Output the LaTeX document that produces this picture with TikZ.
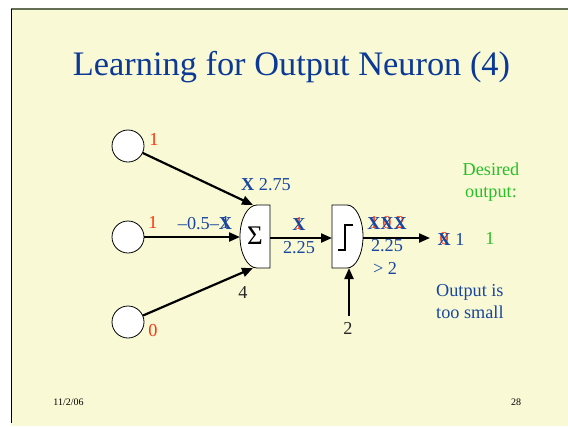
\documentclass[tikz,border=0pt]{standalone}
\usepackage{fontspec}
\setmainfont{Liberation Serif}
\usetikzlibrary{arrows.meta}
\definecolor{bg}{RGB}{249,250,213}
\definecolor{ttl}{RGB}{12,56,150}
\definecolor{bl}{RGB}{25,70,160}
\definecolor{rd}{RGB}{255,51,17}
\definecolor{gr}{RGB}{40,190,40}
\definecolor{edge}{RGB}{100,110,85}
\newcommand{\ovx}[2]{\ooalign{\hfil\raisebox{1.5bp}{\textcolor{#1}{#2}}\hfil\cr\textbf{X}}}
\begin{document}
\begin{tikzpicture}[x=1bp,y=-1bp,
  txt/.style={inner sep=0pt, font=\fontsize{18.3}{22}\selectfont},
  inp/.style={circle, draw, fill=white, minimum size=32bp, inner sep=0pt, line width=0.8bp},
  conn/.style={line width=2.2bp, -{Triangle[length=11bp,width=9bp]}},
  unit/.style={fill=white, draw, line width=0.8bp}]
\useasboundingbox (0,0) rectangle (568,426);
\fill[white] (0,0) rectangle (568,426);
\fill[bg] (11,9) rectangle (568,426);
\draw[line width=1.2bp, edge] (11,9) -- (568,9);
\draw[line width=1bp] (11,9) -- (11,423);

\node[text=ttl, font=\fontsize{34.5}{40}\selectfont, inner sep=0pt, anchor=base] (title) at (291.5,75) {Learning for Output Neuron (4)};

% inputs
\node[inp] (i1) at (128,146) {};
\node[inp] (i2) at (128,237) {};
\node[inp] (i3) at (128,322) {};

% summation unit
\draw[unit] (270,205) -- (257,205) .. controls (247.6,205) and (240,219.1) .. (240,236.5)
  .. controls (240,253.9) and (247.6,268) .. (257,268) -- (270,268) -- cycle;
\node[inner sep=0pt, font=\fontsize{27}{30}\selectfont] (sum) at (255,236) {Σ};
\coordinate (sumT) at (253,205);
\coordinate (sumL) at (240,237);
\coordinate (sumB) at (253,268);
\coordinate (sumR) at (270,238);

% threshold unit
\draw[unit] (332,205) -- (347,205) .. controls (355.8,205) and (363,219.1) .. (363,236.5)
  .. controls (363,253.9) and (355.8,268) .. (347,268) -- (332,268) -- cycle;
\coordinate (step) at (347,236.5);
\draw[line width=1.6bp] (338,250) -- (345,250) -- (345,225) -- (353,225);
\coordinate (stepL) at (332,238);
\coordinate (stepR) at (363,238);
\coordinate (stepB) at (349,268);
\coordinate (outp) at (430,238);
\coordinate (bias) at (349,316);

% connectors
\draw[conn] (i1) -- (sumT);
\draw[conn] (i2) -- (sumL);
\draw[conn] (i3) -- (sumB);
\draw[conn] (sumR) -- (stepL);
\draw[conn] (stepR) -- (outp);
\draw[conn] (bias) -- (stepB);

% input values
\node[txt, text=rd] (v1) at (154,139) {1};
\node[txt, text=rd] (v2) at (153,222) {1};
\node[txt, text=rd] (v3) at (153,331) {0};

% weights
\node[txt, text=bl] (w1) at (266,185) {\textbf{X} 2.75};
\node[txt, text=bl] (w2) at (205,223) {–0.5–\ovx{bl}{1}};
\node[txt, text=black!85] (w3) at (243,292) {4};
\node[txt, text=black!85] (thr) at (348,328) {2};

% sums
\node[txt, text=bl] (s1) at (299,224) {\ovx{rd}{1}};
\node[txt, text=bl] (s2) at (299,248) {2.25};
\node[txt, text=bl] (t1) at (387,223) {\ovx{rd}{1}\ovx{rd}{0}\ovx{rd}{2}};
\node[txt, text=bl] (t2) at (387,246) {2.25};
\node[txt, text=bl] (t3) at (385,268) {> 2};
\node[txt, text=bl] (o1) at (451,239) {\ovx{rd}{0} 1};
\node[txt, text=gr] (d1) at (490,238) {1};

\node[txt, text=gr, align=center] (des) at (491,182) {Desired\\output:};
\node[txt, text=bl, align=left, anchor=west] (msg) at (436,302) {Output is\\too small};

% footer
\node[inner sep=0pt, font=\fontsize{10}{12}\selectfont] (date) at (68.5,402) {11/2/06};
\node[inner sep=0pt, font=\fontsize{10}{12}\selectfont] (page) at (516,402) {28};
\end{tikzpicture}
\end{document}
